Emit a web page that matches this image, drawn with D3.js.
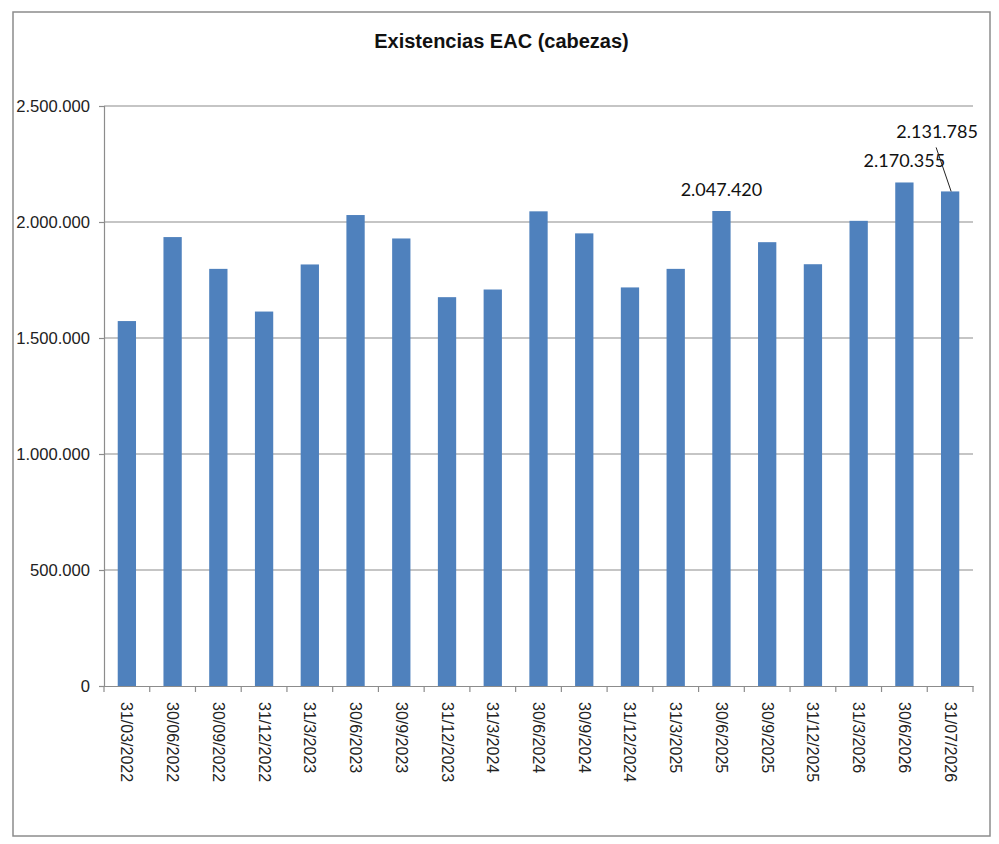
<!DOCTYPE html>
<html>
<head>
<meta charset="utf-8">
<script src="https://cdn.jsdelivr.net/npm/d3@7"></script>
<style>
  html, body { margin: 0; padding: 0; background: #fff; }
  svg { display: block; }
</style>
</head>
<body>
<svg id="chart" width="999" height="844"></svg>
<script>
const title = "Existencias EAC (cabezas)";
const categories = ["31/03/2022","30/06/2022","30/09/2022","31/12/2022","31/3/2023","30/6/2023","30/9/2023","31/12/2023","31/3/2024","30/6/2024","30/9/2024","31/12/2024","31/3/2025","30/6/2025","30/9/2025","31/12/2025","31/3/2026","30/6/2026","31/07/2026"];
const values = [1573000,1935000,1798000,1614000,1817000,2030000,1929000,1676000,1709000,2046000,1951000,1718000,1798000,2047420,1913000,1818000,2005000,2170355,2131785];
const yTicks = [0,500000,1000000,1500000,2000000,2500000];
const labeled = ["30/6/2025","30/6/2026","31/07/2026"];

const svg = d3.select("#chart");
const W = 999, H = 844;
const m = {left:104, right:26, top:106, bottom:158};
const pw = W - m.left - m.right, ph = H - m.top - m.bottom;

// frame
svg.append("rect").attr("x",13).attr("y",12).attr("width",977).attr("height",824)
  .attr("fill","#fff").attr("stroke","#8c8c8c").attr("stroke-width",1.5);

svg.append("text").attr("x",501.5).attr("y",48).attr("text-anchor","middle")
  .attr("font-family","Liberation Sans, Arial, sans-serif").attr("font-weight","bold")
  .attr("font-size",20).attr("fill","#111").text(title);

const x = d3.scaleBand().domain(categories).range([m.left, m.left+pw]).paddingInner(0.6).paddingOuter(0.3);
const y = d3.scaleLinear().domain([0,2500000]).range([m.top+ph, m.top]);
const fmt = v => d3.format(",")(v).replace(/,/g,".");

// gridlines
svg.append("g").selectAll("line").data(yTicks.filter(d=>d>0)).join("line")
  .attr("x1",m.left).attr("x2",m.left+pw).attr("y1",d=>y(d)).attr("y2",d=>y(d))
  .attr("stroke","#8c8c8c").attr("stroke-width",1.2);

// bars
svg.append("g").selectAll("rect").data(values).join("rect")
  .attr("x",(d,i)=>x(categories[i])).attr("width",x.bandwidth())
  .attr("y",d=>y(d)).attr("height",d=>y(0)-y(d)).attr("fill","#4F81BD");

// y axis
const yAxis = d3.axisLeft(y).tickValues(yTicks).tickFormat(fmt).tickSize(5).tickPadding(9);
const gy = svg.append("g").attr("transform",`translate(${m.left},0)`).call(yAxis);
gy.select(".domain").attr("stroke","#8c8c8c").attr("stroke-width",1.2);
gy.selectAll(".tick line").attr("stroke","#8c8c8c").attr("stroke-width",1.2);
gy.selectAll("text").attr("font-family","Liberation Sans, Arial, sans-serif").attr("font-size",16.6).attr("fill","#222");

// x axis
const xAxis = d3.axisBottom(x).tickSize(0).tickPadding(0);
const gx = svg.append("g").attr("transform",`translate(0,${y(0)})`).call(xAxis);
gx.select(".domain").attr("stroke","#8c8c8c").attr("stroke-width",1.2);
gx.selectAll(".tick text")
  .attr("font-family","Liberation Sans, Arial, sans-serif").attr("font-size",16).attr("fill","#222")
  .attr("text-anchor","start").attr("dy",null).attr("y",0)
  .attr("transform","translate(-5.5,16) rotate(90)").attr("dominant-baseline","auto");
// boundary ticks
const bounds = d3.range(categories.length+1).map(i => m.left + i*pw/categories.length);
gx.append("g").selectAll("line").data(bounds).join("line")
  .attr("x1",d=>d).attr("x2",d=>d).attr("y1",0).attr("y2",6)
  .attr("stroke","#8c8c8c").attr("stroke-width",1.2);

// data labels
const labelFont = "Lato, Open Sans, sans-serif";
labeled.forEach(c => {
  const i = categories.indexOf(c);
  const v = values[i];
  const cx = x(c) + x.bandwidth()/2;
  let lx = cx, ly = y(v) - 15;
  if (c === "31/07/2026") {
    lx = cx - 13; ly = y(v) - 53;
    svg.append("line").attr("x1",cx-14).attr("y1",ly+9).attr("x2",cx+1).attr("y2",y(v))
      .attr("stroke","#222").attr("stroke-width",1);
  }
  svg.append("text").attr("x",lx).attr("y",ly).attr("text-anchor","middle")
    .attr("font-family",labelFont).attr("font-size",18).attr("fill","#111").text(fmt(v));
});
</script>
</body>
</html>
